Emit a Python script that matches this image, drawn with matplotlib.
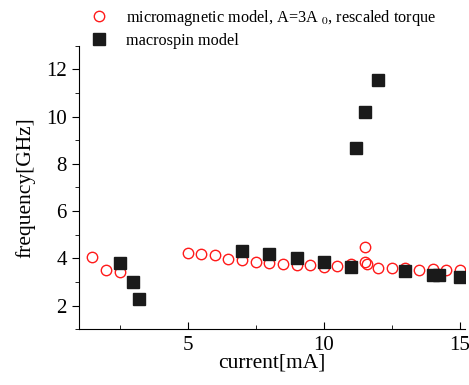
import matplotlib
matplotlib.use("Agg")
import matplotlib.pyplot as plt
import numpy as np

plt.rcParams['font.family'] = ['Liberation Serif', 'DejaVu Serif']
plt.rcParams['mathtext.fontset'] = 'stix'

# micromagnetic model (red open circles)
micro_x = [1.5, 2.0, 2.5, 5.0, 5.5, 6.0, 6.5, 7.0, 7.5, 8.0, 8.5, 9.0, 9.5,
           10.0, 10.5, 11.0, 11.5, 11.5, 11.6, 12.0, 12.5, 13.0, 13.5, 14.0,
           14.5, 15.0]
micro_y = [4.05, 3.52, 3.42, 4.24, 4.17, 4.13, 3.99, 3.91, 3.84, 3.82, 3.77,
           3.70, 3.73, 3.63, 3.66, 3.75, 4.46, 3.85, 3.74, 3.59, 3.59, 3.59,
           3.52, 3.56, 3.52, 3.52]

# macrospin model (black squares)
macro_x = [2.5, 3.0, 3.2, 7.0, 8.0, 9.0, 10.0, 11.0, 11.2, 11.5, 12.0, 13.0,
           14.0, 14.25, 15.0]
macro_y = [3.82, 2.99, 2.26, 4.31, 4.17, 4.01, 3.84, 3.65, 8.67, 10.18, 11.57,
           3.46, 3.31, 3.31, 3.20]

fig = plt.figure(figsize=(4.69, 3.85), dpi=100)
ax = fig.add_axes([0.168, 0.145, 0.824, 0.736])

ax.plot(micro_x, micro_y, 'o', mfc='none', mec='#ff1a1a', ms=7.5, mew=1.0,
        label=r'micromagnetic model, A=3A $_{0}$, rescaled torque')
ax.plot(macro_x, macro_y, 's', color='#1a1a1a', ms=8,
        label='macrospin model')

ax.set_xlim(1.0, 15.2)
ax.set_ylim(1, 13)
ax.set_xticks([5, 10, 15])
ax.set_xticks([2.5, 7.5, 12.5], minor=True)
ax.set_yticks([2, 4, 6, 8, 10, 12])
ax.set_yticks([1, 3, 5, 7, 9, 11, 13], minor=True)

ax.spines['top'].set_visible(False)
ax.spines['right'].set_visible(False)
ax.tick_params(axis='x', direction='in', length=5, labelsize=15, pad=5)
ax.tick_params(axis='x', which='minor', direction='in', length=3)
ax.tick_params(axis='y', direction='out', length=5, labelsize=15)
ax.tick_params(axis='y', which='minor', direction='out', length=3)

ax.set_xlabel('current[mA]', fontsize=15.5, labelpad=-1)
ax.set_ylabel('frequency[GHz]', fontsize=15.5, labelpad=8)

fig.legend(loc='upper left', bbox_to_anchor=(0.146, 1.018), frameon=False,
           fontsize=11.7, handletextpad=0.66, labelspacing=0.32)

fig.savefig('out.png', dpi=100)
